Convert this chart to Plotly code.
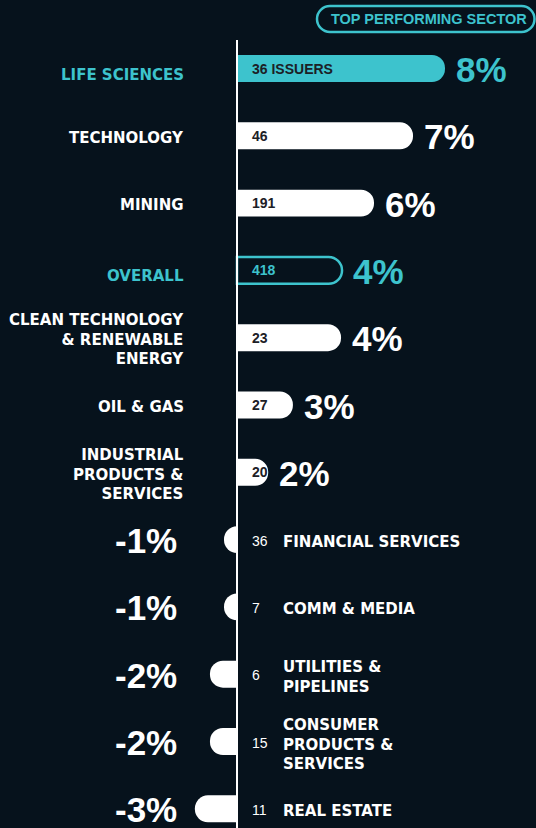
import plotly.graph_objects as go

# ---- data ----
sectors = ["LIFE SCIENCES", "TECHNOLOGY", "MINING", "OVERALL",
           "CLEAN TECHNOLOGY<br>& RENEWABLE<br>ENERGY", "OIL & GAS",
           "INDUSTRIAL<br>PRODUCTS &<br>SERVICES", "FINANCIAL SERVICES",
           "COMM & MEDIA", "UTILITIES &<br>PIPELINES",
           "CONSUMER<br>PRODUCTS &<br>SERVICES", "REAL ESTATE"]
returns = [8.0, 6.77, 5.27, 4.04, 4.0, 2.15, 1.2, -0.5, -0.5, -1.04, -1.04, -1.62]
pct_labels = ["8%", "7%", "6%", "4%", "4%", "3%", "2%", "-1%", "-1%", "-2%", "-2%", "-3%"]
issuers = ["36 ISSUERS", "46", "191", "418", "23", "27", "20", "36", "7", "6", "15", "11"]
highlight = [True, False, False, True, False, False, False, False, False, False, False, False]
outline_only = [False, False, False, True, False, False, False, False, False, False, False, False]

BG = "#06121c"
TEAL = "#3dc3cd"
WHITE = "#ffffff"
DARK = "#1c2026"
CAT_FONT = "DejaVu Sans"
NUM_FONT = "Liberation Sans"

W, H = 536, 828
AXIS_PX = 237
PX_PER_UNIT = 26.0
ROW0_PX = 68.5
ROW_STEP = 67.3

ypos = list(range(len(sectors)))

bar_colors = []
line_colors = []
line_widths = []
for h, o in zip(highlight, outline_only):
    if o:
        bar_colors.append(BG)
        line_colors.append(TEAL)
        line_widths.append(2.5)
    elif h:
        bar_colors.append(TEAL)
        line_colors.append(TEAL)
        line_widths.append(0)
    else:
        bar_colors.append(WHITE)
        line_colors.append(WHITE)
        line_widths.append(0)

fig = go.Figure()
fig.add_trace(go.Bar(
    x=returns, y=ypos, orientation="h", width=0.4,
    marker=dict(color=bar_colors, line=dict(color=line_colors, width=line_widths),
                cornerradius="50%"),
    hoverinfo="skip", showlegend=False,
))

annotations = []
for i, (v, name, pct, cnt, h) in enumerate(zip(returns, sectors, pct_labels, issuers, highlight)):
    col = TEAL if h else WHITE
    cat_shift = -6 if h else -2
    if v >= 0:
        annotations.append(dict(x=0, y=i, xref="x", yref="y", text=name, xanchor="right",
                                align="right", xshift=-51, yshift=cat_shift, showarrow=False,
                                font=dict(family=CAT_FONT, size=15, color=col, weight=700)))
        annotations.append(dict(x=v, y=i, xref="x", yref="y", text=pct, xanchor="left",
                                xshift=9, yshift=-1, showarrow=False,
                                font=dict(family=NUM_FONT, size=35, color=col, weight=700)))
        cnt_col = TEAL if outline_only[i] else DARK
        annotations.append(dict(x=0, y=i, xref="x", yref="y", text=cnt, xanchor="left",
                                xshift=13, showarrow=False,
                                font=dict(family=NUM_FONT, size=14, color=cnt_col, weight=700)))
    else:
        annotations.append(dict(x=0, y=i, xref="x", yref="y", text=pct, xanchor="right",
                                xshift=-58, yshift=-1, showarrow=False,
                                font=dict(family=NUM_FONT, size=35, color=WHITE, weight=700)))
        annotations.append(dict(x=0, y=i, xref="x", yref="y", text=cnt, xanchor="left",
                                xshift=13, yshift=-1, showarrow=False,
                                font=dict(family=NUM_FONT, size=14, color=WHITE, weight=400)))
        annotations.append(dict(x=0, y=i, xref="x", yref="y", text=name, xanchor="left",
                                align="left", xshift=44, yshift=-2.5, showarrow=False,
                                font=dict(family=CAT_FONT, size=15, color=WHITE, weight=700)))

# "TOP PERFORMING SECTOR" pill
def P(px, py):
    return f"{px / W:.5f},{1 - py / H:.5f}"

x0, x1, y0, y1, r = 317, 534.5, 6, 32, 13
k = 0.5523 * r
pill = (f"M {P(x0 + r, y0)} L {P(x1 - r, y0)} "
        f"C {P(x1 - r + k, y0)} {P(x1, y0 + r - k)} {P(x1, y0 + r)} "
        f"C {P(x1, y0 + r + k)} {P(x1 - r + k, y1)} {P(x1 - r, y1)} "
        f"L {P(x0 + r, y1)} "
        f"C {P(x0 + r - k, y1)} {P(x0, y0 + r + k)} {P(x0, y0 + r)} "
        f"C {P(x0, y0 + r - k)} {P(x0 + r - k, y0)} {P(x0 + r, y0)} Z")

annotations.append(dict(x=(x0 + x1) / 2 / W, y=1 - 19 / H, xref="paper", yref="paper",
                        xanchor="center", yanchor="middle", xshift=3,
                        text="TOP PERFORMING SECTOR", showarrow=False,
                        font=dict(family=NUM_FONT, size=14.5, color=TEAL, weight=700)))

shapes = [
    dict(type="line", xref="x", yref="paper", x0=0, x1=0, y0=0, y1=1 - 40 / H,
         line=dict(color=WHITE, width=2), layer="above"),
    dict(type="path", xref="paper", yref="paper", path=pill,
         line=dict(color=TEAL, width=2.5), fillcolor="rgba(0,0,0,0)"),
]

fig.update_layout(
    width=W, height=H,
    margin=dict(l=0, r=0, t=0, b=0),
    paper_bgcolor=BG, plot_bgcolor=BG,
    barmode="overlay",
    xaxis=dict(range=[-AXIS_PX / PX_PER_UNIT, (W - AXIS_PX) / PX_PER_UNIT],
               visible=False, fixedrange=True),
    yaxis=dict(range=[(len(sectors) - 1) + (H - ROW0_PX - ROW_STEP * (len(sectors) - 1)) / ROW_STEP,
                      -ROW0_PX / ROW_STEP],
               visible=False, fixedrange=True),
    annotations=annotations,
    shapes=shapes,
)

fig.write_html("out.html", config={"displayModeBar": False},
               post_script="document.body.style.margin='0';document.body.style.background='" + BG + "';")
